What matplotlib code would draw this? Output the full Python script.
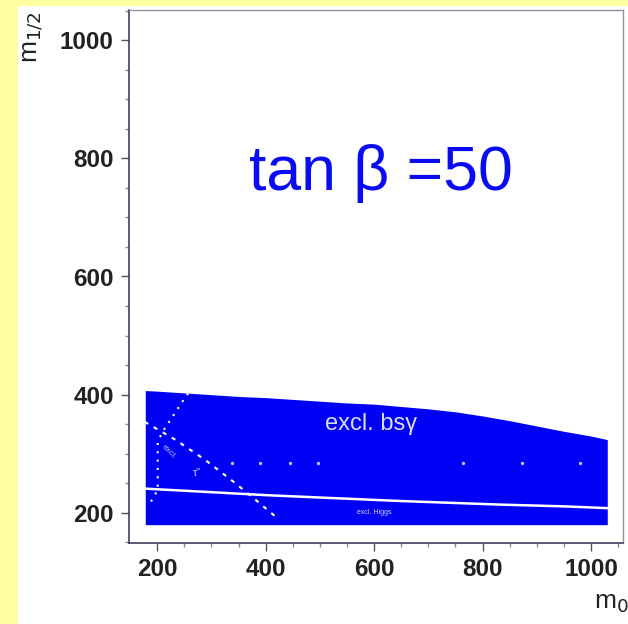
import matplotlib.pyplot as plt
from matplotlib.patches import Rectangle

# excluded (blue) region: upper edge vs m0, lower edge flat
m0_edge = [178, 200, 250, 300, 350, 400, 450, 500, 550, 600, 650, 700, 750, 800, 850, 900, 950, 1000, 1030]
m12_top = [407, 406, 403, 400, 397, 395, 392, 389, 386, 384, 380, 376, 371, 364, 356, 347, 338, 330, 324]
m12_bottom = 180

# Higgs exclusion line
higgs_m0 = [178, 300, 400, 524, 650, 832, 950, 1030]
higgs_m12 = [241, 235, 230, 225, 220, 214, 211, 208]

# stau exclusion (dotted) boundary
stau_m0 = [270, 255, 209, 201, 201, 183]
stau_m12 = [410, 400, 336, 319, 239, 210]

# dashed boundary going down to the right
dash_m0 = [177, 233, 288, 343, 375, 423]
dash_m12 = [354, 324, 290, 251, 227, 190]

# white grid dots inside the region
dot_m0 = [338, 389, 445, 496, 764, 872, 979]
dot_m12 = [285, 285, 285, 285, 285, 285, 285]

xticks = [200, 400, 600, 800, 1000]
yticks = [200, 400, 600, 800, 1000]

plt.rcParams['font.family'] = ['Liberation Sans', 'DejaVu Sans']

fig = plt.figure(figsize=(6.28, 6.24), dpi=100)
fig.patch.set_facecolor('#ffffa0')
# white panel
fig.patches.append(Rectangle((18 / 628, 0), 1, 1 - 6 / 624, transform=fig.transFigure,
                             facecolor='white', edgecolor='none', zorder=-5))

ax = fig.add_axes([129 / 628, 1 - 543 / 624, (623 - 129) / 628, (543 - 10) / 624])
ax.set_zorder(2)
ax.set_facecolor('white')

ax.fill_between(m0_edge, m12_bottom, m12_top, color='#0000f5', lw=0)
ax.plot(higgs_m0, higgs_m12, color='white', lw=1.8)
ax.plot(stau_m0, stau_m12, color='white', lw=1.5, ls=(0, (1, 3)))
ax.plot(dash_m0, dash_m12, color='white', lw=1.5, ls=(0, (2, 3)))
ax.scatter(dot_m0, dot_m12, s=2, color='#c0c0ff', zorder=3)

ax.text(595, 351, 'excl. bs\u03b3', color='#dcdcf4', fontsize=17, ha='center', va='center')
ax.text(601, 200, 'excl. Higgs', color='#d8d8f0', fontsize=5, ha='center', va='center')
ax.text(222, 303, 'excl.', color='#c8c8e8', fontsize=6, ha='center', va='center', rotation=-45)
ax.text(270, 268, '\u03c4\u0303', color='#c8c8e8', fontsize=8, ha='center', va='center')

ax.text(0.51, 0.694, 'tan \u03b2 =50', transform=ax.transAxes, color='#0a0af5', fontsize=45,
        ha='center', va='center')

ax.set_xlim(148, 1059)
ax.set_ylim(149, 1051)
ax.set_xticks(xticks)
ax.set_yticks(yticks)
ax.set_xticks(range(200, 1051, 50), minor=True)
ax.set_yticks(range(150, 1051, 50), minor=True)
ax.tick_params(axis='both', which='major', length=6, width=1, color='#555555',
               labelsize=17.5, labelcolor='#222222', pad=5)
ax.tick_params(axis='both', which='minor', length=3, width=1, color='#888888')
for lab in ax.get_xticklabels() + ax.get_yticklabels():
    lab.set_fontweight('bold')

for side in ['left', 'bottom']:
    ax.spines[side].set_color('#404060')
    ax.spines[side].set_linewidth(1.2)
for side in ['top', 'right']:
    ax.spines[side].set_color('#9090a0')
    ax.spines[side].set_linewidth(1.0)

fig.text(34 / 628, 1 - 37 / 624, 'm$_{1/2}$', rotation=90, fontsize=19,
         ha='center', va='center', color='#222222')
fig.text(611 / 628, 1 - 603 / 624, 'm$_0$', fontsize=19,
         ha='center', va='center', color='#222222')

fig.savefig('out.png', dpi=100)
